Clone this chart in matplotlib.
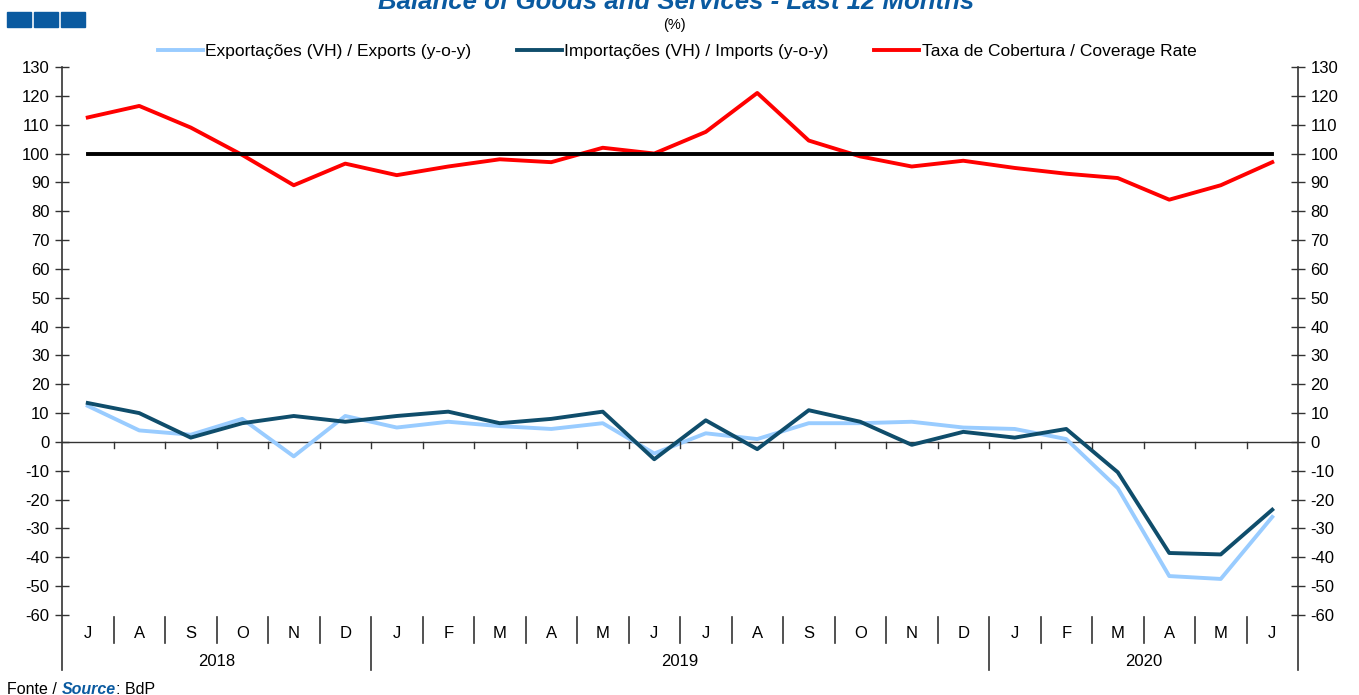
import matplotlib

matplotlib.use("Agg")
import matplotlib.pyplot as plt
from matplotlib.lines import Line2D
from matplotlib.patches import Rectangle
from matplotlib.transforms import blended_transform_factory

plt.rcParams["font.family"] = ["Liberation Sans", "DejaVu Sans"]

months = ["J", "A", "S", "O", "N", "D",
          "J", "F", "M", "A", "M", "J", "J", "A", "S", "O", "N", "D",
          "J", "F", "M", "A", "M", "J"]
years = ["2018", "2019", "2020"]
year_len = [6, 12, 6]

exports = [12.5, 4, 2.5, 8, -5, 9, 5, 7, 5.5, 4.5, 6.5, -4,
           3, 1, 6.5, 6.5, 7, 5, 4.5, 1, -16, -46.5, -47.5, -26]
imports = [13.5, 10, 1.5, 6.5, 9, 7, 9, 10.5, 6.5, 8, 10.5, -6,
           7.5, -2.5, 11, 7, -1, 3.5, 1.5, 4.5, -10.5, -38.5, -39, -23.5]
coverage = [112.5, 116.5, 109, 99.5, 89, 96.5, 92.5, 95.5, 98, 97, 102, 100,
            107.5, 121, 104.5, 99, 95.5, 97.5, 95, 93, 91.5, 84, 89, 97]
parity = 100

C_EXP = "#99ccff"
C_IMP = "#0f4d6b"
C_COV = "#ff0000"
BLUE = "#0a5aa0"
AXC = "#333333"

W, H = 1359, 695
fig = plt.figure(figsize=(W / 100, H / 100), dpi=100)
ax = fig.add_axes([62 / W, 1 - 615 / H, (1298 - 62) / W, 548 / H])

x = list(range(len(months)))
ax.plot(x, exports, color=C_EXP, lw=2.8, label="Exportações (VH) / Exports (y-o-y)")
ax.plot(x, imports, color=C_IMP, lw=2.8, label="Importações (VH) / Imports (y-o-y)")
ax.plot(x, coverage, color=C_COV, lw=2.8, label="Taxa de Cobertura / Coverage Rate")
ax.plot([x[0], x[-1]], [parity, parity], color="black", lw=2.8)

ax.set_xlim(-0.5, len(months) - 0.5)
ax.set_ylim(-60, 130)
yt = list(range(-60, 131, 10))
ax.set_yticks(yt)
ax.set_yticklabels([str(v) for v in yt], fontsize=12)

# zero line with small category ticks
ax.axhline(0, color=AXC, lw=1, zorder=1)
for i in range(len(months) - 1):
    ax.plot([i + 0.5, i + 0.5], [0, -2], color=AXC, lw=1)
ax.set_xticks([])

for s in ax.spines.values():
    s.set_visible(False)
ax.tick_params(axis="y", direction="inout", length=10, width=1, color=AXC,
               left=True, right=True, labelleft=True, labelright=True, pad=4)

tr = blended_transform_factory(ax.transData, ax.transAxes)
bottom_year = -(670 - 615) / 548
sep_top = (615 - 617) / 548
sep_bot = -(643 - 615) / 548
# value axes run down past the plot to the year row
for xe in (-0.5, len(months) - 0.5):
    ax.add_line(Line2D([xe, xe], [1, bottom_year], transform=tr, color=AXC,
                       lw=1.2, clip_on=False))
for i, m in enumerate(months):
    ax.text(i, -(634 - 615) / 548, m, transform=tr, ha="center", va="center",
            fontsize=12)
start = 0
for yname, n in zip(years, year_len):
    ax.text(start + (n - 1) / 2, -(662 - 615) / 548, yname, transform=tr,
            ha="center", va="center", fontsize=12)
    start += n
    if start < len(months):
        ax.add_line(Line2D([start - 0.5] * 2, [sep_top, bottom_year], transform=tr,
                           color=AXC, lw=1.2, clip_on=False))
for i in range(len(months) - 1):
    if i + 1 not in (6, 18):
        ax.add_line(Line2D([i + 0.5] * 2, [sep_top, sep_bot], transform=tr,
                           color=AXC, lw=1.2, clip_on=False))

# header (title is cropped at the top edge, as in the source)
for k in range(3):
    fig.add_artist(Rectangle(((7 + k * 27) / W, 1 - 27 / H), 24 / W, 15 / H,
                             transform=fig.transFigure, color=BLUE))
fig.text(676 / W, 1 - 9 / H, "Balance of Goods and Services - Last 12 Months",
         ha="center", va="baseline", fontsize=18.5, fontweight="bold",
         fontstyle="italic", color=BLUE)
fig.text(674 / W, 1 - 25 / H, "(%)", ha="center", va="center", fontsize=10.5)

fig.legend(loc="center", bbox_to_anchor=(677 / W, 1 - 51 / H), ncol=3,
           frameon=False, fontsize=12.5, handlelength=2.6, handletextpad=0.15,
           columnspacing=2.6)

# source line, pieces chained one after another
t1 = fig.text(7 / W, 1 - 689 / H, "Fonte / ", ha="left", va="center", fontsize=11.5)
t2 = ax.annotate("Source", xy=(1, 0), xycoords=t1, ha="left", va="bottom",
                 fontsize=11.5, fontweight="bold", fontstyle="italic", color=BLUE,
                 annotation_clip=False)
ax.annotate(": BdP", xy=(1, 0), xycoords=t2, ha="left", va="bottom",
            fontsize=11.5, annotation_clip=False)

fig.savefig("out.png", dpi=100)
